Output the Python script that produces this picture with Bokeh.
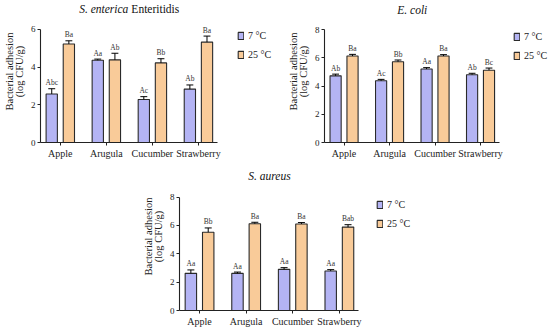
import numpy as np
from bokeh.plotting import figure
from bokeh.models import Range1d, FixedTicker, Legend, LegendItem, Label, Spacer
from bokeh.layouts import column, row
from bokeh.embed import file_html
from bokeh.resources import INLINE
from bokeh.core.properties import value

FONT = "Liberation Serif"
C7 = "#B4B4F4"
C25 = "#F9CB99"
EDGE = "#2a2a2a"

categories = ["Apple", "Arugula", "Cucumber", "Strawberry"]
series_names = ["7 °C", "25 °C"]

# S. enterica Enteritidis
se_7 = [2.57, 4.36, 2.28, 2.83]
se_7_sd = [0.28, 0.06, 0.15, 0.22]
se_7_let = ["Abc", "Aa", "Ac", "Ab"]
se_25 = [5.22, 4.38, 4.22, 5.32]
se_25_sd = [0.17, 0.35, 0.22, 0.32]
se_25_let = ["Ba", "Ab", "Bb", "Ba"]

# E. coli
ec_7 = [4.72, 4.37, 5.20, 4.80]
ec_7_sd = [0.12, 0.10, 0.10, 0.10]
ec_7_let = ["Ab", "Ac", "Aa", "Ab"]
ec_25 = [6.12, 5.72, 6.12, 5.12]
ec_25_sd = [0.12, 0.12, 0.10, 0.15]
ec_25_let = ["Ba", "Bb", "Ba", "Bc"]

# S. aureus
sa_7 = [2.62, 2.62, 2.90, 2.78]
sa_7_sd = [0.24, 0.09, 0.12, 0.10]
sa_7_let = ["Aa", "Aa", "Aa", "Aa"]
sa_25 = [5.52, 6.12, 6.10, 5.88]
sa_25_sd = [0.30, 0.10, 0.10, 0.17]
sa_25_let = ["Bb", "Ba", "Ba", "Bab"]

y_label = "Bacterial adhesion\n(log CFU/g)"


def make_panel(width, height, bl, bb, y_max, y_top, x_end, v7, s7, l7, v25, s25, l25,
               legend_xy, title_parts, title_off):
    p = figure(width=width, height=height, output_backend="svg", toolbar_location=None,
               x_range=Range1d(-0.43, x_end), y_range=Range1d(0, y_top),
               min_border_left=bl, min_border_right=0, min_border_top=0,
               min_border_bottom=bb)
    p.outline_line_color = None
    p.grid.grid_line_color = None
    p.background_fill_color = "white"
    p.border_fill_color = "white"

    idx = np.arange(len(categories))
    off, bw, cap = 0.186, 0.245, 0.075
    renderers = []
    for xs, v, s, l, col in [(idx - off, v7, s7, l7, C7), (idx + off, v25, s25, l25, C25)]:
        v = np.array(v)
        s = np.array(s)
        r = p.vbar(x=xs, top=v, bottom=0, width=bw, fill_color=col,
                   line_color=EDGE, line_width=1.1)
        renderers.append(r)
        p.segment(x0=xs, y0=v, x1=xs, y1=v + s, line_color="black", line_width=1)
        p.segment(x0=xs - cap, y0=v + s, x1=xs + cap, y1=v + s,
                  line_color="black", line_width=1)
        p.text(x=xs, y=v + s, text=l, text_align="center", text_baseline="bottom",
               y_offset=-1.5, text_font=value(FONT), text_font_size="7.5px",
               text_color="#333333")

    # axes
    p.xaxis.ticker = FixedTicker(ticks=list(range(len(categories))))
    p.xaxis.major_label_overrides = {i: c for i, c in enumerate(categories)}
    p.xaxis.bounds = (-0.43, 3.42)
    p.yaxis.ticker = FixedTicker(ticks=list(range(0, y_max + 1, 2)))
    p.yaxis.bounds = (0, y_max)
    p.yaxis.axis_label = y_label
    for ax in p.axis:
        ax.axis_line_color = "#222222"
        ax.axis_line_width = 1.1
        ax.major_tick_line_color = "#222222"
        ax.major_tick_in = 0
        ax.major_tick_out = 3
        ax.minor_tick_line_color = None
        ax.major_label_text_font = FONT
        ax.major_label_text_color = "#222222"
        ax.major_label_standoff = 2
    p.xaxis.major_label_text_font_size = "10px"
    p.yaxis.major_label_text_font_size = "9px"
    p.yaxis.axis_label_text_font = FONT
    p.yaxis.axis_label_text_font_style = "normal"
    p.yaxis.axis_label_text_font_size = "10.5px"
    p.yaxis.axis_label_text_color = "#222222"
    p.yaxis.axis_label_standoff = 3
    p.yaxis.axis_label_text_line_height = 0.95

    legend = Legend(items=[LegendItem(label=series_names[0], renderers=[renderers[0]]),
                           LegendItem(label=series_names[1], renderers=[renderers[1]])],
                    location=legend_xy, glyph_width=7, glyph_height=9, label_height=9,
                    label_standoff=4, spacing=8, padding=0, margin=0,
                    border_line_alpha=0, background_fill_alpha=0,
                    label_text_font=FONT, label_text_font_size="10px",
                    label_text_color="#222222")
    p.add_layout(legend, "center")

    # title (mixed italic / normal parts), inside the plotting area above the axis top
    if len(title_parts) == 1:
        p.add_layout(Label(x=1.5, y=y_max, y_offset=title_off, text=title_parts[0],
                           text_align="center", text_baseline="middle", text_font=FONT,
                           text_font_style="italic", text_font_size="11.5px",
                           text_color="#111111"))
    else:
        p.add_layout(Label(x=1.5, y=y_max, x_offset=-1, y_offset=title_off,
                           text=title_parts[0], text_align="right",
                           text_baseline="middle", text_font=FONT,
                           text_font_style="italic", text_font_size="11.5px",
                           text_color="#111111"))
        p.add_layout(Label(x=1.5, y=y_max, x_offset=2, y_offset=title_off,
                           text=title_parts[1], text_align="left",
                           text_baseline="middle", text_font=FONT,
                           text_font_style="normal", text_font_size="11.5px",
                           text_color="#111111"))
    return p


# top row: frame top at y 0; y max at 29, y=0 at 143 (panel 1) / 142 (panel 2)
p1 = make_panel(284, 162, 36, 19, 6, 6 + 29 / (114 / 6), -0.43 + 248 / 46.8,
                se_7, se_7_sd, se_7_let, se_25, se_25_sd, se_25_let,
                (197, 82), ["S. enterica", "Enteritidis"], 20)
p2 = make_panel(265, 162, 37, 20, 8, 8 + 29 / (113 / 8), -0.43 + 228 / 46.1,
                ec_7, ec_7_sd, ec_7_let, ec_25, ec_25_sd, ec_25_let,
                (189, 81), ["E. coli"], 20)
# bottom row: frame top at y 162; y=8 at 197, y=0 at 312
p3 = make_panel(277, 167, 37, 17, 8, 8 + 35 / (115 / 8), -0.43 + 240 / 47.2,
                sa_7, sa_7_sd, sa_7_let, sa_25, sa_25_sd, sa_25_let,
                (197, 81), ["S. aureus"], 21)

layout = column(row(p1, p2), row(Spacer(width=139, height=167), p3))

open("out.html", "w").write(file_html(layout, INLINE))
